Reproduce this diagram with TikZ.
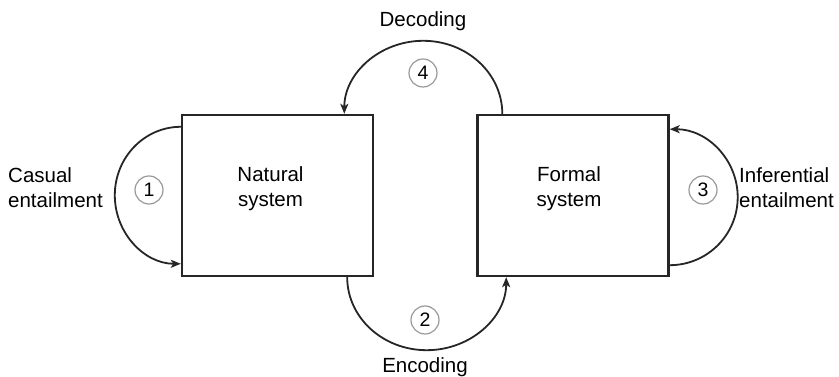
\documentclass[tikz,border=0pt]{standalone}
\usepackage{fontspec}
\setmainfont{Liberation Sans}
\usetikzlibrary{arrows.meta,calc}
\begin{document}
\begin{tikzpicture}[x=1pt,y=1pt,
  sysbox/.style={draw=black!85, line width=2.4pt, minimum width=191pt, minimum height=161pt, inner sep=0pt, align=center, font=\fontsize{20.5}{25}\selectfont},
  loop/.style={draw=black!85, line width=1.8pt, -{Stealth[length=10pt,width=8pt,inset=2.5pt]}},
  num/.style={circle, draw=black!40, line width=1.2pt, minimum size=28pt, inner sep=0pt, font=\fontsize{19.5}{19.5}\selectfont},
  lbl/.style={font=\fontsize{20.5}{25}\selectfont, inner sep=0pt}]
\useasboundingbox (0,0) rectangle (839,377);
\node[sysbox] (nat) at (277.5,181.5) {};
\node[sysbox] (frm) at (573,181.5) {};
\node[lbl, align=center] (natt) at ([xshift=-7pt,yshift=7pt]nat.center) {Natural\\system};
\node[lbl, align=center] (frmt) at ([xshift=-4pt,yshift=7pt]frm.center) {Formal\\system};
% loop 1 causal
\draw[loop] ([yshift=-13pt]nat.north west) arc[start angle=90, end angle=270, x radius=66, y radius=68.5];
% loop 3 inferential
\draw[loop] ([yshift=12pt]frm.south east) arc[start angle=-90, end angle=90, x radius=68, y radius=68];
% loop 4 decoding
\draw[loop] ([xshift=26pt]frm.north west) arc[start angle=0, end angle=180, x radius=79, y radius=73];
% loop 2 encoding
\draw[loop] ([xshift=-27pt]nat.south east) arc[start angle=180, end angle=360, x radius=79.5, y radius=73];
\node[num] (n1) at (149,187) {1};
\node[num] (n4) at (423,304) {4};
\node[num] (n2) at (425,57) {2};
\node[num] (n3) at (703,187) {3};
\node[lbl, anchor=west, align=left] (l1) at (8,189) {Casual\\entailment};
\node[lbl, anchor=west, align=left] (l3) at (739,189) {Inferential\\entailment};
\node[lbl, anchor=base] (l4) at (423,350) {Decoding};
\node[lbl, anchor=base] (l2) at (425,4) {Encoding};
\end{tikzpicture}
\end{document}
